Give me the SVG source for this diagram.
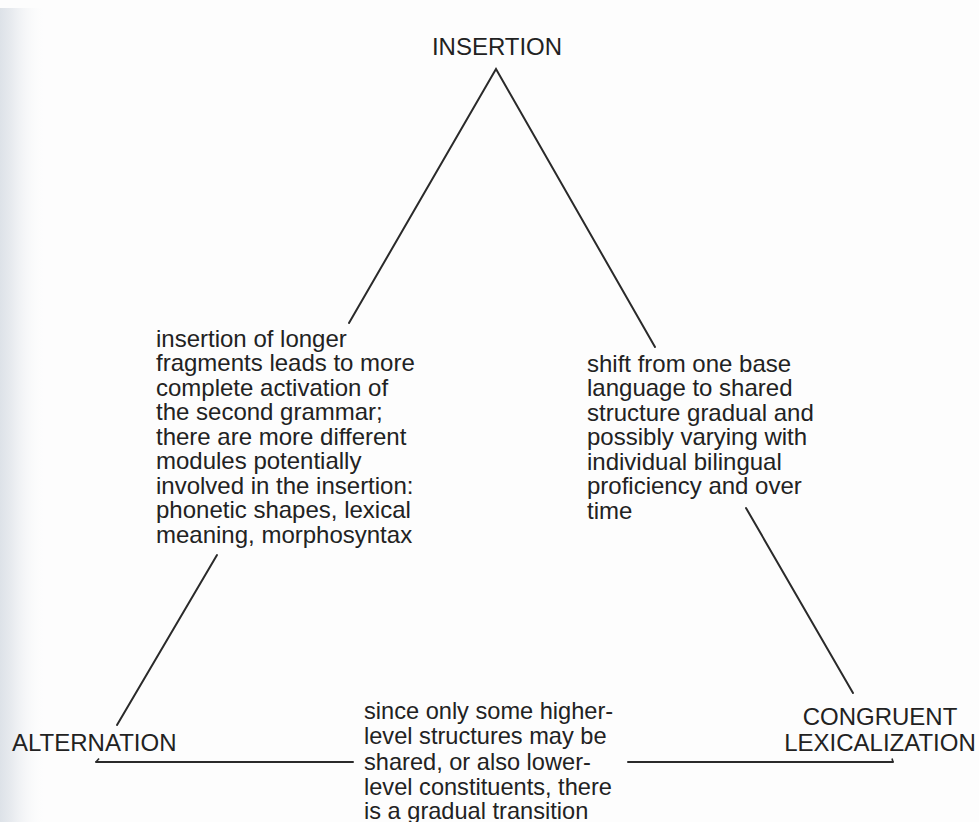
<svg xmlns="http://www.w3.org/2000/svg" width="979" height="822" viewBox="0 0 979 822">
  <defs>
    <linearGradient id="edge" x1="0" y1="0" x2="1" y2="0">
      <stop offset="0" stop-color="#dde2e8"/>
      <stop offset="0.25" stop-color="#e8ebef"/>
      <stop offset="1" stop-color="#ffffff" stop-opacity="0"/>
    </linearGradient>
    <style>
      .t { font-family: "Liberation Sans", Arial, Helvetica, sans-serif; fill: #222; }
      .cap { font-size: 24px; }
      .body { font-size: 24px; }
      .bot { font-size: 23.6px; }
      .ln { stroke: #2a2a2a; stroke-width: 2; fill: none; stroke-linecap: round; }
      .tick { stroke: #2a2a2a; stroke-width: 1.6; fill: none; }
    </style>
  </defs>
  <rect x="0" y="0" width="979" height="822" fill="#fdfdfd"/>
  <rect x="0" y="8" width="48" height="814" fill="url(#edge)"/>

  <g id="connectors">
    <path class="ln" d="M349,323 L496,69 L655,347"/>
    <path class="ln" d="M217,555 L117,725"/>
    <path class="ln" d="M746,508 L853,693"/>
    <path class="ln" d="M96,762 L353,762"/>
    <path class="ln" d="M628,762 L893,762"/>
    <path class="tick" d="M96,762 L99,758.5"/>
    <path class="tick" d="M893,762 L892,758.5"/>
  </g>

  <g id="insertion">
    <text class="t cap" x="497" y="55" text-anchor="middle">INSERTION</text>
  </g>

  <g id="alternation">
    <text class="t cap" x="12" y="751">ALTERNATION</text>
  </g>

  <g id="congruent-lexicalization">
    <text class="t cap" x="880" y="725" text-anchor="middle">CONGRUENT</text>
    <text class="t cap" x="880" y="751" text-anchor="middle">LEXICALIZATION</text>
  </g>

  <g id="note-left">
    <text class="t body" x="156" y="346.5">
      <tspan x="156" y="346.5">insertion of longer</tspan>
      <tspan x="156" y="371">fragments leads to more</tspan>
      <tspan x="156" y="395.5">complete activation of</tspan>
      <tspan x="156" y="420">the second grammar;</tspan>
      <tspan x="156" y="444.5">there are more different</tspan>
      <tspan x="156" y="469">modules potentially</tspan>
      <tspan x="156" y="493.5">involved in the insertion:</tspan>
      <tspan x="156" y="518">phonetic shapes, lexical</tspan>
      <tspan x="156" y="542.5">meaning, morphosyntax</tspan>
    </text>
  </g>

  <g id="note-right">
    <text class="t body" x="587" y="371.5">
      <tspan x="587" y="371.5">shift from one base</tspan>
      <tspan x="587" y="396">language to shared</tspan>
      <tspan x="587" y="420.5">structure gradual and</tspan>
      <tspan x="587" y="445">possibly varying with</tspan>
      <tspan x="587" y="469.5">individual bilingual</tspan>
      <tspan x="587" y="494">proficiency and over</tspan>
      <tspan x="587" y="518.5">time</tspan>
    </text>
  </g>

  <g id="note-bottom">
    <text class="t bot" x="364" y="719">
      <tspan x="364" y="719">since only some higher-</tspan>
      <tspan x="364" y="744">level structures may be</tspan>
      <tspan x="364" y="769.5">shared, or also lower-</tspan>
      <tspan x="364" y="795">level constituents, there</tspan>
      <tspan x="364" y="818.5">is a gradual transition</tspan>
    </text>
  </g>
</svg>
